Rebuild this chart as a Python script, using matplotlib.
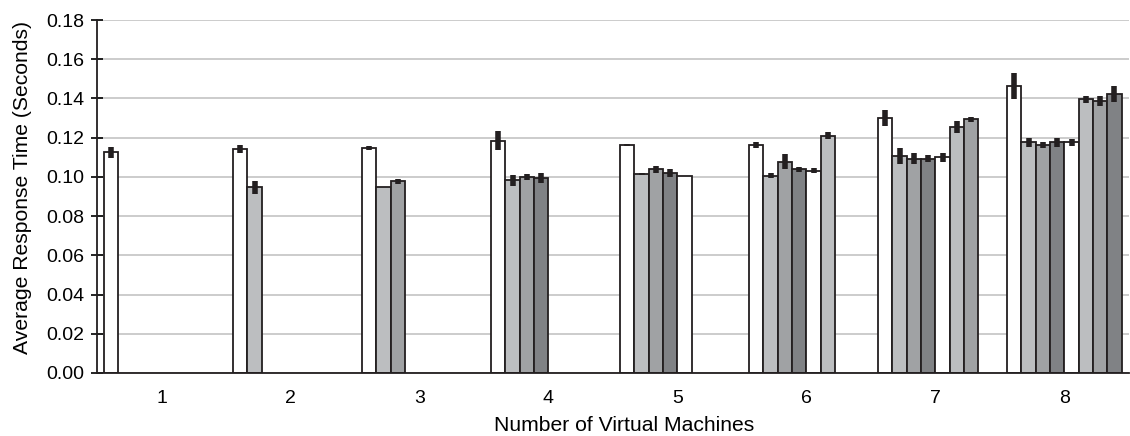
import matplotlib
matplotlib.use("Agg")
import matplotlib.pyplot as plt

# mean response time per VM, one list per number of virtual machines
vm_counts = [1, 2, 3, 4, 5, 6, 7, 8]
rt_1vm = [0.1125]
rt_2vm = [0.1141, 0.0947]
rt_3vm = [0.1147, 0.0947, 0.0977]
rt_4vm = [0.1185, 0.0984, 0.1001, 0.0993]
rt_5vm = [0.1163, 0.1015, 0.1039, 0.1018, 0.1006]
rt_6vm = [0.1163, 0.1006, 0.1078, 0.1039, 0.1032, 0.1209]
rt_7vm = [0.1300, 0.1108, 0.1093, 0.1093, 0.1100, 0.1254, 0.1294]
rt_8vm = [0.1464, 0.1178, 0.1164, 0.1176, 0.1176, 0.1396, 0.1387, 0.1424]

# half-width of the error bars
err_1vm = [0.0027]
err_2vm = [0.0020, 0.0033]
err_3vm = [0.0012, 0.0, 0.0012]
err_4vm = [0.0048, 0.0028, 0.0015, 0.0026]
err_5vm = [0.0003, 0.0003, 0.0019, 0.0020, 0.0]
err_6vm = [0.0013, 0.0013, 0.0038, 0.0014, 0.0011, 0.0018]
err_7vm = [0.0041, 0.0042, 0.0029, 0.0018, 0.0022, 0.0030, 0.0014]
err_8vm = [0.0065, 0.0023, 0.0014, 0.0023, 0.0019, 0.0019, 0.0027, 0.0040]

means = [rt_1vm, rt_2vm, rt_3vm, rt_4vm, rt_5vm, rt_6vm, rt_7vm, rt_8vm]
errors = [err_1vm, err_2vm, err_3vm, err_4vm, err_5vm, err_6vm, err_7vm, err_8vm]

y_ticks = [0.00, 0.02, 0.04, 0.06, 0.08, 0.10, 0.12, 0.14, 0.16, 0.18]

plt.rcParams["font.family"] = ["Liberation Sans", "DejaVu Sans"]

shades = ["#ffffff", "#bcbec0", "#a0a2a4", "#808285"]
edge = "#231f20"
w = 0.111

fig = plt.figure(figsize=(11.30, 4.36), dpi=100)
ax = fig.add_axes([0.0858, 0.1445, 0.9132, 0.8095])

for g, vals, errs in zip(vm_counts, means, errors):
    for k, (v, e) in enumerate(zip(vals, errs)):
        x = g + (k - 3.5) * w
        ax.bar(x, v, width=w, color=shades[k % 4], edgecolor=edge,
               linewidth=1.3, zorder=2)
        if e > 0:
            ax.errorbar(x, v, yerr=e, fmt="none", ecolor=edge,
                        elinewidth=4, capsize=0, zorder=3)

ax.set_xlim(0.5, 8.5)
ax.set_ylim(0, 0.18)
ax.set_xticks(vm_counts)
ax.set_xticklabels([str(v) for v in vm_counts])
ax.set_yticks(y_ticks)
ax.set_yticklabels([f"{t:.2f}" for t in y_ticks])

ax.tick_params(axis="x", length=0, labelsize=14, pad=12)
ax.tick_params(axis="y", direction="inout", length=8, width=1.2,
               labelsize=14, pad=5)

ax.yaxis.grid(True, color="#c8c8c8", linewidth=1.3, zorder=0)
ax.set_axisbelow(True)

for side in ["top", "right"]:
    ax.spines[side].set_visible(False)
for side in ["left", "bottom"]:
    ax.spines[side].set_color(edge)
    ax.spines[side].set_linewidth(1.3)

fig.text(0.552, 0.025, "Number of Virtual Machines", fontsize=15.2,
         ha="center", va="center")
fig.text(0.020, 0.571, "Average Response Time (Seconds)", fontsize=15.2,
         rotation=90, ha="center", va="center")

fig.savefig("out.png", dpi=100)
